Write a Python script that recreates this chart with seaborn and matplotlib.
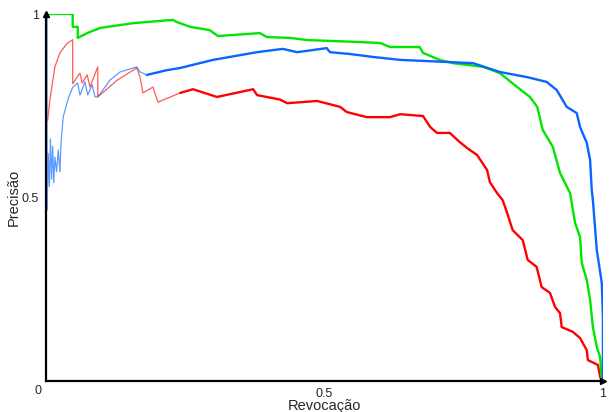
import numpy as np
import pandas as pd
import matplotlib
matplotlib.use("Agg")
import matplotlib.pyplot as plt
import seaborn as sns

# ---------------------------------------------------------------------------
# Precision / recall points
# ---------------------------------------------------------------------------
green_recall = [0.0, 0.048, 0.048, 0.057, 0.057, 0.074, 0.097, 0.156, 0.228, 0.235,
                0.259, 0.294, 0.309, 0.384, 0.397, 0.438, 0.469, 0.558, 0.600, 0.618,
                0.671, 0.677, 0.707, 0.731, 0.785, 0.815, 0.846, 0.869, 0.882, 0.892,
                0.910, 0.923, 0.941, 0.950, 0.959, 0.962, 0.971, 0.977, 0.982, 0.989,
                0.995, 0.998, 1.0]
green_precision = [1.0, 1.0, 0.965, 0.965, 0.935, 0.948, 0.962, 0.975, 0.984, 0.978,
                   0.965, 0.956, 0.940, 0.948, 0.937, 0.935, 0.929, 0.924, 0.921, 0.910,
                   0.910, 0.894, 0.875, 0.866, 0.856, 0.839, 0.801, 0.774, 0.747, 0.684,
                   0.638, 0.567, 0.512, 0.431, 0.392, 0.322, 0.275, 0.221, 0.147, 0.093,
                   0.065, 0.003, 0.0]

blue_recall = [0.0, 0.002, 0.002, 0.004, 0.006, 0.008, 0.010, 0.012, 0.014, 0.016,
               0.019, 0.022, 0.025, 0.027, 0.031, 0.040, 0.048, 0.057, 0.061, 0.070,
               0.075, 0.083, 0.088, 0.093, 0.115, 0.133, 0.163, 0.169, 0.181, 0.217,
               0.241, 0.300, 0.379, 0.425, 0.451, 0.504, 0.510, 0.546, 0.587, 0.636,
               0.725, 0.767, 0.815, 0.864, 0.899, 0.917, 0.935, 0.953, 0.959, 0.971,
               0.977, 0.980, 0.982, 0.989, 0.998, 1.0, 1.0]
blue_precision = [1.0, 1.0, 0.466, 0.62, 0.53, 0.66, 0.55, 0.64, 0.54, 0.61,
                  0.57, 0.63, 0.57, 0.65, 0.72, 0.77, 0.80, 0.812, 0.779, 0.815,
                  0.779, 0.807, 0.774, 0.774, 0.820, 0.842, 0.856, 0.842, 0.834, 0.847,
                  0.853, 0.875, 0.896, 0.905, 0.896, 0.907, 0.896, 0.891, 0.883, 0.875,
                  0.869, 0.866, 0.842, 0.828, 0.815, 0.793, 0.747, 0.730, 0.692, 0.649,
                  0.602, 0.520, 0.493, 0.357, 0.267, 0.174, 0.0]

red_recall = [0.003, 0.007, 0.016, 0.025, 0.038, 0.048, 0.048, 0.061, 0.065, 0.074,
              0.079, 0.093, 0.093, 0.128, 0.163, 0.169, 0.174, 0.192, 0.201, 0.241,
              0.264, 0.307, 0.372, 0.379, 0.420, 0.433, 0.487, 0.528, 0.540, 0.576,
              0.618, 0.636, 0.677, 0.690, 0.702, 0.725, 0.743, 0.756, 0.774, 0.792,
              0.797, 0.810, 0.820, 0.828, 0.838, 0.856, 0.865, 0.881, 0.890, 0.905,
              0.914, 0.923, 0.926, 0.946, 0.959, 0.971, 0.973, 0.991, 0.995, 1.0]
red_precision = [0.71, 0.766, 0.856, 0.894, 0.920, 0.930, 0.810, 0.839, 0.812, 0.834,
                 0.801, 0.856, 0.774, 0.820, 0.853, 0.828, 0.785, 0.801, 0.760, 0.785,
                 0.795, 0.774, 0.795, 0.779, 0.767, 0.757, 0.763, 0.747, 0.733, 0.719,
                 0.719, 0.727, 0.722, 0.692, 0.676, 0.676, 0.651, 0.635, 0.616, 0.575,
                 0.542, 0.512, 0.493, 0.458, 0.411, 0.384, 0.330, 0.311, 0.256, 0.240,
                 0.202, 0.185, 0.147, 0.134, 0.117, 0.084, 0.057, 0.044, 0.011, 0.0]

x_ticks = [0.5, 1]
y_ticks = [0.5, 1]
tick_labels = ["0.5", "1"]

sns.set_style("white")
plt.rcParams["font.family"] = ["Liberation Sans", "DejaVu Sans"]

fig = plt.figure(figsize=(6.09, 4.12), dpi=100)
ax = fig.add_axes([0.0755, 0.0752, 0.9145, 0.8908])

# (recall, precision, colour, index where the curve turns from thin to thick)
curves = [
    (red_recall, red_precision, "#ff0000", 19),
    (green_recall, green_precision, "#00e600", 0),
    (blue_recall, blue_precision, "#0a64ff", 28),
]
for rec, prec, col, split in curves:
    d = pd.DataFrame({"recall": rec, "precision": prec})
    if split > 0:
        sns.lineplot(data=d.iloc[:split + 1], x="recall", y="precision", sort=False,
                     estimator=None, color=col, linewidth=0.9, alpha=0.65, ax=ax)
    sns.lineplot(data=d.iloc[split:], x="recall", y="precision", sort=False,
                 estimator=None, color=col, linewidth=1.7, ax=ax)

ax.set_xlim(0, 1)
ax.set_ylim(0, 1)
ax.set_xticks(x_ticks)
ax.set_xticklabels(tick_labels)
ax.set_yticks(y_ticks)
ax.set_yticklabels(tick_labels)
ax.tick_params(axis="both", direction="out", length=3, width=1, color="black",
               labelsize=9, pad=2)
ax.text(-0.008, -0.01, "0", transform=ax.transAxes, ha="right", va="top", fontsize=9)

for side in ["top", "right"]:
    ax.spines[side].set_visible(False)
for side in ["left", "bottom"]:
    ax.spines[side].set_color("black")
    ax.spines[side].set_linewidth(1.6)

# little arrow heads at the axis ends
ax.plot([0], [1], marker="^", color="black", markersize=4, transform=ax.transAxes, clip_on=False)
ax.plot([1], [0], marker=">", color="black", markersize=4, transform=ax.transAxes, clip_on=False)

ax.set_xlabel("Revocação", fontsize=10.5, labelpad=-1)
ax.set_ylabel("Precisão", fontsize=10.5, labelpad=1)

fig.savefig("out.png", dpi=100)
